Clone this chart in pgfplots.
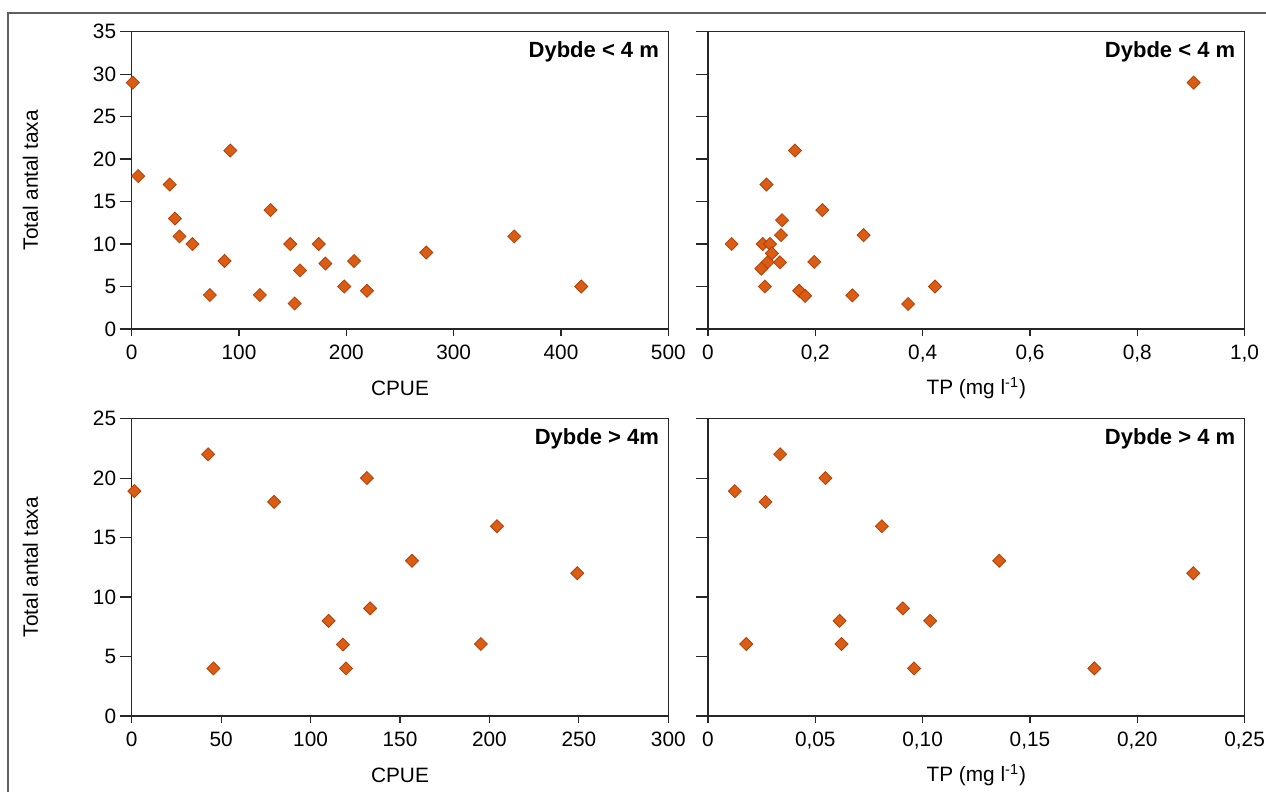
\documentclass[border=0pt]{standalone}
\usepackage{pgfplots}
\pgfplotsset{compat=1.18}
\usepackage{pgfplotstable}
\usepackage{fontspec}
\setmainfont{Liberation Sans}
\definecolor{mfill}{RGB}{219,93,20}
\definecolor{medge}{RGB}{176,66,12}
\definecolor{framegray}{RGB}{95,95,95}

\pgfplotstableread{
x y
1 29
6 18
35.4 17
40.3 13
44.5 10.9
56.6 10
72.8 4
86.5 8
91.9 21
119.4 4
129.4 14
147.7 10
151.8 3
156.8 6.9
174.3 10
180.5 7.7
198 5
207.2 8
219.2 4.5
274.5 9
356.5 10.9
418.9 5
}\cpueshallow

\pgfplotstableread{
x y
0.905 29
0.162 21
0.109 17
0.213 14
0.138 12.8
0.136 11.05
0.290 11.05
0.044 10
0.102 10
0.1156 10
0.119 8.9
0.111 7.85
0.134 7.85
0.198 7.9
0.0995 7.1
0.106 5
0.170 4.5
0.181 3.9
0.269 3.96
0.373 2.94
0.423 5
}\tpshallow

\pgfplotstableread{
x y
1.5 18.9
42.7 22
45.7 4
79.6 18
110.1 8
118.1 6
119.8 4
131.5 20
133.3 9.05
156.7 13.05
195.2 6.05
204.2 15.95
249.1 12
}\cpuedeep

\pgfplotstableread{
x y
0.0125 18.9
0.0336 22
0.0268 18
0.0547 20
0.081 15.95
0.1357 13.05
0.2261 12
0.0908 9.05
0.0613 8
0.1035 8
0.0178 6.05
0.0622 6.05
0.096 4
0.18 4
}\tpdeep

\pgfplotsset{
  panel/.style={
    scale only axis, width=268.3pt, height=148.7pt,
    anchor=south west,
    axis line style={black!85, line width=0.55pt},
    tick style={black!85, line width=0.55pt},
    tick align=outside,
    xtick pos=bottom, ytick pos=left,
    xtick style={/pgfplots/major tick length=3.75pt},
    ytick style={/pgfplots/major tick length=6pt},
    minor tick num=0,
    clip=false,
    font=\fontsize{10.4}{12}\selectfont,
    ticklabel style={font=\fontsize{10.4}{12}\selectfont},
    /pgf/number format/assume math mode=true,
    scaled ticks=false,
    xlabel style={at={(rel axis cs:0.5,0)}, anchor=center, yshift=-29.7pt},
    ylabel style={at={(rel axis cs:0,0.5)}, anchor=center, yshift=50.6pt},
  },
  pts/.style={only marks, mark=square*, mark size=2.3pt,
    mark options={rotate=45, fill=mfill, draw=medge, line width=0.4pt}},
}

\newcommand{\tag}[1]{\node[anchor=east, font=\bfseries\fontsize{11}{13}\selectfont, xshift=-4.5pt, yshift=-10pt, inner sep=0pt] at (rel axis cs:1,1) {#1};}

\begin{document}
\begin{tikzpicture}
\useasboundingbox (0,0) rectangle (633pt,396pt);
\draw[framegray, line width=0.75pt] (4pt,0) -- (4pt,389.5pt) -- (633pt,389.5pt);

% top left
\begin{axis}[panel, at={(65.85pt,231.5pt)},
  xmin=0, xmax=500, ymin=0, ymax=35,
  xtick={0,100,200,300,400,500}, ytick={0,5,...,35},
  xlabel={CPUE}, ylabel={Total antal taxa}]
  \addplot[pts] table[x=x,y=y] {\cpueshallow};
  \tag{Dybde < 4 m}
\end{axis}

% top right
\begin{axis}[panel, at={(354pt,231.5pt)},
  xmin=0, xmax=1, ymin=0, ymax=35,
  xtick={0,0.2,0.4,0.6,0.8,1.0},
  xticklabels={0,{0,2},{0,4},{0,6},{0,8},{1,0}},
  ytick={0,5,...,35}, yticklabels={,,,,,,,,},
  xlabel={TP (mg l\textsuperscript{-1})}]
  \addplot[pts] table[x=x,y=y] {\tpshallow};
  \tag{Dybde < 4 m}
\end{axis}

% bottom left
\begin{axis}[panel, at={(65.85pt,38pt)},
  xmin=0, xmax=300, ymin=0, ymax=25,
  xtick={0,50,...,300}, ytick={0,5,...,25},
  xlabel={CPUE}, ylabel={Total antal taxa}]
  \addplot[pts] table[x=x,y=y] {\cpuedeep};
  \tag{Dybde > 4m}
\end{axis}

% bottom right
\begin{axis}[panel, at={(354pt,38pt)},
  xmin=0, xmax=0.25, ymin=0, ymax=25,
  xtick={0,0.05,0.1,0.15,0.2,0.25},
  xticklabels={0,{0,05},{0,10},{0,15},{0,20},{0,25}},
  ytick={0,5,...,25}, yticklabels={,,,,,,,,},
  xlabel={TP (mg l\textsuperscript{-1})}]
  \addplot[pts] table[x=x,y=y] {\tpdeep};
  \tag{Dybde > 4 m}
\end{axis}
\end{tikzpicture}
\end{document}
